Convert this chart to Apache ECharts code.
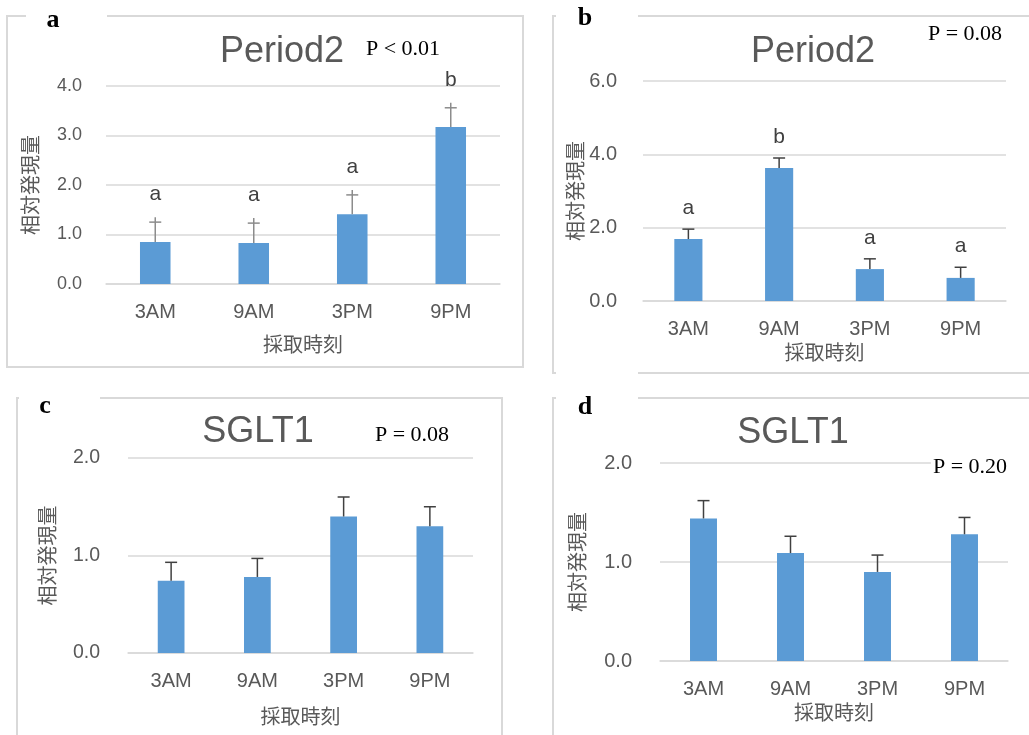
<!DOCTYPE html>
<html>
<head>
<meta charset="utf-8">
<script src="https://cdn.jsdelivr.net/npm/echarts@6/dist/echarts.min.js"></script>
<style>
html, body { margin: 0; padding: 0; background: #fff; }
#main { width: 1029px; height: 735px; }
</style>
</head>
<body>
<div id="main"></div>
<script>
// 採取時刻
var categories = ['3AM', '9AM', '3PM', '9PM'];

// a: Period2
var aMean = [0.85, 0.83, 1.41, 3.17];
var aErr = [0.40, 0.40, 0.39, 0.39];
var aLetters = ['a', 'a', 'a', 'b'];
var aTicks = [0, 1, 2, 3, 4];

// b: Period2
var bMean = [1.69, 3.63, 0.87, 0.63];
var bErr = [0.27, 0.27, 0.28, 0.29];
var bLetters = ['a', 'b', 'a', 'a'];
var bTicks = [0, 2, 4, 6];

// c: SGLT1
var cMean = [0.74, 0.78, 1.40, 1.30];
var cErr = [0.19, 0.19, 0.20, 0.20];
var cTicks = [0, 1, 2];

// d: SGLT1
var dMean = [1.44, 1.09, 0.90, 1.28];
var dErr = [0.18, 0.17, 0.17, 0.17];
var dTicks = [0, 1, 2];

var sans = 'Liberation Sans, Arial, sans-serif';
var cjk = 'Noto Sans CJK JP, sans-serif';
var serif = 'Liberation Serif, Times New Roman, serif';
var grey = '#595959';
var lineGrey = '#d9d9d9';

var panels = [
  { grid: { left: 106, top: 86, width: 394, height: 198 }, mean: aMean, err: aErr, letters: aLetters, ticks: aTicks,
    yGap: 66, xGap: 50, yFont: 18, yMargin: 24, errColor: '#8c8c8c', over: 5, letterGap: 28 },
  { grid: { left: 643, top: 81, width: 363, height: 220 }, mean: bMean, err: bErr, letters: bLetters, ticks: bTicks,
    yGap: 58, xGap: 41, yFont: 20, yMargin: 26, errColor: '#404040', over: 0, letterGap: 21 },
  { grid: { left: 128, top: 458, width: 345, height: 195 }, mean: cMean, err: cErr, letters: null, ticks: cTicks,
    yGap: 71, xGap: 53, yFont: 19.5, yMargin: 28, errColor: '#404040', over: 0, letterGap: 20 },
  { grid: { left: 660, top: 463, width: 348, height: 198 }, mean: dMean, err: dErr, letters: null, ticks: dTicks,
    yGap: 73, xGap: 41, yFont: 20, yMargin: 28, errColor: '#404040', over: 0, letterGap: 20 }
];

var grids = [], xAxes = [], yAxes = [], series = [];

panels.forEach(function (p, i) {
  grids.push(p.grid);
  xAxes.push({
    type: 'category', gridIndex: i, data: categories,
    name: '採取時刻', nameLocation: 'middle', nameGap: p.xGap,
    nameTextStyle: { fontFamily: cjk, fontSize: 20, color: grey },
    axisLine: { lineStyle: { color: lineGrey, width: 1.5 } },
    axisTick: { show: false },
    axisLabel: { fontFamily: sans, fontSize: 20, color: grey, margin: 18 }
  });
  var tks = p.ticks;
  yAxes.push({
    type: 'value', gridIndex: i, min: tks[0], max: tks[tks.length - 1],
    interval: tks[1] - tks[0],
    name: '相対発現量', nameLocation: 'middle', nameGap: p.yGap, nameRotate: 90,
    nameTextStyle: { fontFamily: cjk, fontSize: 20, color: grey },
    axisLine: { show: false }, axisTick: { show: false },
    splitLine: { lineStyle: { color: lineGrey, width: 1.5 } },
    axisLabel: { fontFamily: sans, fontSize: p.yFont, color: grey, margin: p.yMargin,
      formatter: function (v) { return v.toFixed(1); } }
  });
  series.push({
    type: 'bar', xAxisIndex: i, yAxisIndex: i, data: p.mean,
    barWidth: '31%', itemStyle: { color: '#5b9bd5' }, silent: true
  });
  series.push({
    type: 'custom', xAxisIndex: i, yAxisIndex: i,
    data: p.mean.map(function (m, k) { return [k, m, p.err[k]]; }),
    z: 5,
    renderItem: function (params, api) {
      var base = api.coord([api.value(0), api.value(1)]);
      var top = api.coord([api.value(0), api.value(1) + api.value(2)]);
      var st = { stroke: p.errColor, lineWidth: 1.5 };
      var children = [
        { type: 'line', shape: { x1: base[0], y1: base[1], x2: base[0], y2: top[1] - p.over }, style: st },
        { type: 'line', shape: { x1: base[0] - 6, y1: top[1], x2: base[0] + 6, y2: top[1] }, style: st }
      ];
      if (p.letters) {
        children.push({ type: 'text', style: {
          x: base[0], y: top[1] - p.letterGap, text: p.letters[params.dataIndex],
          align: 'center', verticalAlign: 'middle',
          font: '21px ' + sans, fill: '#404040' } });
      }
      return { type: 'group', children: children };
    }
  });
});

function txt(x, y, s, font, color, bg) {
  var st = { x: x, y: y, text: s, font: font, fill: color,
    align: 'center', verticalAlign: 'middle' };
  if (bg) { st.backgroundColor = bg; st.padding = [0, 2]; }
  return { type: 'text', z: 10, style: st };
}
function frame(points) {
  return { type: 'polyline', shape: { points: points },
    style: { stroke: lineGrey, lineWidth: 2, fill: null } };
}

var graphics = [
  // panel frames
  frame([[26, 16], [7, 16], [7, 367], [523, 367], [523, 16], [107, 16]]),
  frame([[556, 16], [553, 16], [553, 373], [556, 373]]),
  frame([[638, 16], [1029, 16]]),
  frame([[638, 373], [1029, 373]]),
  frame([[19, 398], [17, 398], [17, 735]]),
  frame([[100, 398], [502, 398], [502, 735]]),
  frame([[556, 398], [553, 398], [553, 735]]),
  frame([[638, 398], [1029, 398]]),
  // panel letters
  txt(53, 20, 'a', 'bold 26px ' + serif, '#000'),
  txt(585, 18, 'b', 'bold 26px ' + serif, '#000'),
  txt(45, 406, 'c', 'bold 26px ' + serif, '#000'),
  txt(585, 407, 'd', 'bold 26px ' + serif, '#000'),
  // titles
  txt(282, 52, 'Period2', '36px ' + sans, grey),
  txt(813, 52, 'Period2', '36px ' + sans, grey),
  txt(258, 432, 'SGLT1', '36px ' + sans, grey),
  txt(793, 433, 'SGLT1', '36px ' + sans, grey),
  // p values
  txt(403, 49, 'P < 0.01', '22px ' + serif, '#000'),
  txt(965, 34, 'P = 0.08', '22px ' + serif, '#000'),
  txt(412, 435, 'P = 0.08', '22px ' + serif, '#000'),
  txt(970, 467, 'P = 0.20', '22px ' + serif, '#000', '#fff')
];

var chart = echarts.init(document.getElementById('main'));
chart.setOption({
  animation: false,
  backgroundColor: '#fff',
  grid: grids,
  xAxis: xAxes,
  yAxis: yAxes,
  series: series,
  graphic: graphics
});
</script>
</body>
</html>
